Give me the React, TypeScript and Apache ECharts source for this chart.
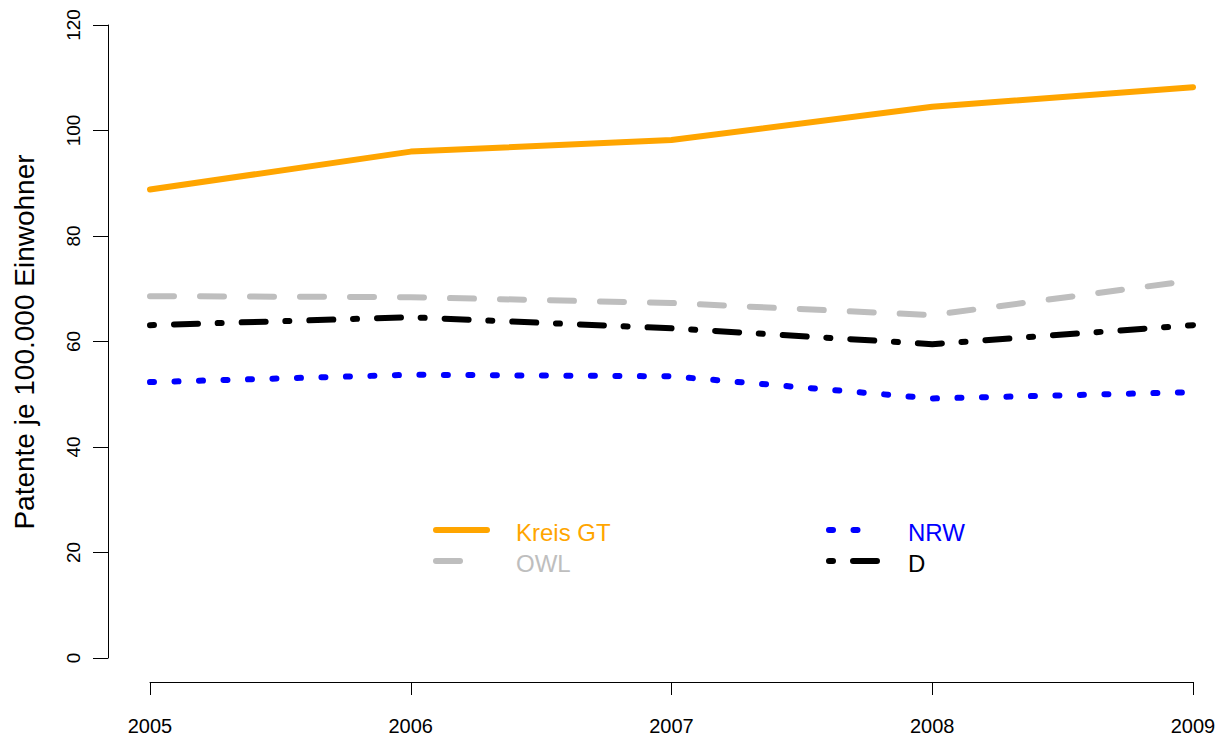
import React, { useEffect, useRef } from "react";
import * as echarts from "echarts";

const years = [2005, 2006, 2007, 2008, 2009];
const kreisGT = [88.8, 96.0, 98.2, 104.5, 108.2];
const owl = [68.6, 68.4, 67.3, 65.0, 71.6];
const nrw = [52.3, 53.7, 53.4, 49.2, 50.4];
const deutschland = [63.1, 64.6, 62.5, 59.5, 63.1];
const yTicks = { min: 0, max: 120, interval: 20 };
const yTitle = "Patente je 100.000 Einwohner";

const FONT = "Liberation Sans, Arial, Helvetica, sans-serif";

const seriesDefs = [
  { name: "Kreis GT", values: kreisGT, color: "#FFA500", dash: "solid" as any },
  { name: "OWL", values: owl, color: "#BEBEBE", dash: [24, 26] },
  { name: "NRW", values: nrw, color: "#0000FF", dash: [4, 20.5] },
  { name: "D", values: deutschland, color: "#000000", dash: [4, 20, 24, 19.7] },
];

export default function App() {
  const ref = useRef<HTMLDivElement>(null);
  useEffect(() => {
    if (!ref.current) return;
    const chart = echarts.init(ref.current, null, { renderer: "svg" });

    const legendPos = [
      { lx: 436, tx: 516, y: 530 },
      { lx: 436, tx: 516, y: 561 },
      { lx: 829, tx: 908, y: 530 },
      { lx: 829, tx: 908, y: 561 },
    ];
    const legendLens = [51, 26, 34, 50];

    const legendEls: any[] = [];
    seriesDefs.forEach((s, i) => {
      const p = legendPos[i];
      legendEls.push({
        type: "line",
        shape: { x1: p.lx, y1: p.y, x2: p.lx + legendLens[i], y2: p.y },
        style: {
          stroke: s.color,
          lineWidth: 6,
          lineDash: s.dash === "solid" ? null : s.dash,
          lineCap: "round",
        },
      });
      legendEls.push({
        type: "text",
        x: p.tx,
        y: p.y + 2,
        style: {
          text: s.name,
          fill: s.color,
          font: `24px ${FONT}`,
          textAlign: "left",
          textVerticalAlign: "middle",
        },
      });
    });

    chart.setOption({
      animation: false,
      backgroundColor: "#ffffff",
      grid: { left: 150, right: 35, top: 25, bottom: 78, containLabel: false },
      xAxis: {
        type: "value",
        min: 2005,
        max: 2009,
        interval: 1,
        offset: 24,
        axisLine: { show: true, onZero: false, lineStyle: { color: "#000", width: 1 } },
        axisTick: { show: true, length: 13, inside: false, lineStyle: { color: "#000" } },
        axisLabel: {
          margin: 34,
          color: "#000",
          fontSize: 20,
          fontFamily: FONT,
          formatter: (v: number) => String(v),
        },
        splitLine: { show: false },
      },
      yAxis: {
        type: "value",
        min: yTicks.min,
        max: yTicks.max,
        interval: yTicks.interval,
        offset: 42,
        axisLine: { show: true, onZero: false, lineStyle: { color: "#000", width: 1 } },
        axisTick: { show: true, length: 15, lineStyle: { color: "#000" } },
        axisLabel: {
          rotate: 90,
          margin: 25,
          color: "#000",
          fontSize: 19,
          fontFamily: FONT,
        },
        splitLine: { show: false },
      },
      graphic: [
        {
          type: "text",
          x: 24,
          y: 342,
          rotation: Math.PI / 2,
          style: {
            text: yTitle,
            fill: "#000",
            font: `28px ${FONT}`,
            textAlign: "center",
            textVerticalAlign: "middle",
          },
        },
        ...legendEls,
      ],
      series: seriesDefs.map((s) => ({
        name: s.name,
        type: "line",
        data: years.map((y, i) => [y, s.values[i]]),
        symbol: "none",
        showSymbol: false,
        lineStyle: {
          color: s.color,
          width: 6,
          type: s.dash,
          cap: "round",
          join: "round",
        },
      })),
    });
    return () => chart.dispose();
  }, []);
  return <div ref={ref} style={{ width: 1228, height: 736, position: "absolute", left: 0, top: 0 }} />;
}
